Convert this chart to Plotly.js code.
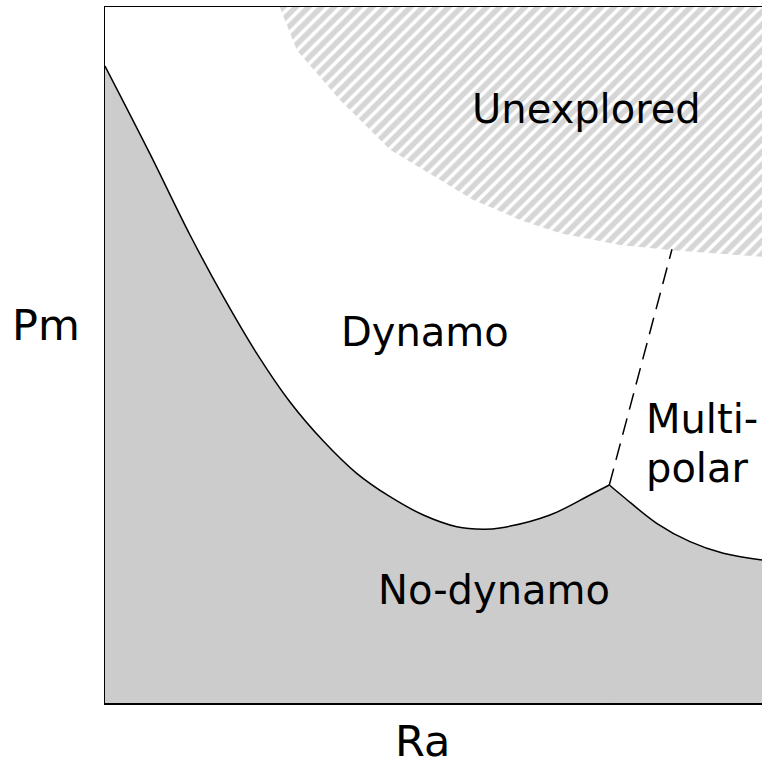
<!DOCTYPE html>
<html>
<head>
<meta charset="utf-8">
<script src="https://cdn.plot.ly/plotly-3.0.1.min.js"></script>
<style>html,body{margin:0;padding:0;overflow:hidden;background:#fff}</style>
</head>
<body>
<div id="chart" style="width:762px;height:765px"></div>
<script>
// Onset of dynamo action: dipolar branch (left of cusp)
const dipRa = [0, 6.85, 12.94, 18.0, 23.09, 28.16, 33.23, 38.31, 43.38, 48.45, 53.53, 57.58, 60.12, 67.73, 73.82, 76.76];
const dipPm = [91.52, 78.9, 67.24, 58.38, 50.24, 43.25, 37.64, 33.0, 29.64, 27.01, 25.33, 24.96, 25.14, 27.01, 29.89, 31.32];

// Onset of dynamo action: multipolar branch (right of cusp)
const multiRa = [76.76, 78.89, 83.97, 89.04, 94.11, 100];
const multiPm = [31.32, 29.64, 25.82, 23.18, 21.51, 20.55];

// Boundary of unexplored region
const unexRa = [26.6, 29.2, 35.8, 43.4, 56.0, 63.2, 69.3, 78.4, 86.0, 100, 100, 26.6];
const unexPm = [100, 93.8, 86.6, 79.5, 72.3, 69.4, 67.5, 65.8, 65.1, 64.1, 100, 100];

// Dipolar / multipolar transition (dashed)
const transRa = [76.76, 86.3];
const transPm = [31.32, 65.2];

const labels = ["Unexplored", "Dynamo", "Multi-", "polar", "No-dynamo"];
const labelRa = [73.3, 48.7, 82.0, 82.0, 59.2];
const labelPm = [85.3, 53.3, 40.8, 33.8, 16.2];

const traces = [
  {
    x: unexRa, y: unexPm, mode: 'lines', fill: 'toself',
    line: {width: 0, color: 'rgba(0,0,0,0)'},
    fillcolor: 'white',
    fillpattern: {shape: '/', fgcolor: '#d6d6d6', bgcolor: 'white', size: 9, solidity: 0.6},
    hoverinfo: 'skip', showlegend: false
  },
  {
    x: dipRa, y: dipPm, mode: 'lines', fill: 'tozeroy',
    fillcolor: '#cccccc',
    line: {color: 'black', width: 1.5, shape: 'spline', smoothing: 1},
    hoverinfo: 'skip', showlegend: false
  },
  {
    x: multiRa, y: multiPm, mode: 'lines', fill: 'tozeroy',
    fillcolor: '#cccccc',
    line: {color: 'black', width: 1.5, shape: 'spline', smoothing: 1},
    hoverinfo: 'skip', showlegend: false
  },
  {
    x: transRa, y: transPm, mode: 'lines',
    line: {color: 'black', width: 1.5, dash: '17px,9px'},
    hoverinfo: 'skip', showlegend: false
  }
];

const font = {family: 'DejaVu Sans', size: 40, color: 'black'};
const annotations = labels.map((t, i) => ({
  x: labelRa[i], y: labelPm[i], xref: 'x', yref: 'y', text: t, showarrow: false,
  font: font, xanchor: (i === 2 || i === 3) ? 'left' : 'center', yanchor: 'middle'
}));
annotations.push({
  x: -0.0898, y: 0.543, xref: 'paper', yref: 'paper', text: 'Pm', showarrow: false,
  font: {family: 'DejaVu Sans', size: 43, color: 'black'}, xanchor: 'center', yanchor: 'middle'
});
annotations.push({
  x: 0.483, y: -0.055, xref: 'paper', yref: 'paper', text: 'Ra', showarrow: false,
  font: {family: 'DejaVu Sans', size: 43, color: 'black'}, xanchor: 'center', yanchor: 'middle'
});

// gray underlay hiding the anti-aliasing seam between the two filled branches
const shapes = [
  {type: 'path', xref: 'x', yref: 'y', layer: 'below',
   path: 'M 74.8,0 L 74.8,29.6 L 76.76,30.95 L 78.4,29.6 L 78.4,0 Z',
   fillcolor: '#cccccc', line: {width: 0}}
];

const layout = {
  width: 762, height: 765,
  margin: {l: 105, r: 0, t: 7, b: 62, pad: 0},
  paper_bgcolor: 'white', plot_bgcolor: 'white',
  xaxis: {range: [0, 100], showgrid: false, zeroline: false, showticklabels: false, ticks: '',
          showline: true, linecolor: 'black', linewidth: 1.5, mirror: true, fixedrange: true},
  yaxis: {range: [0, 100], showgrid: false, zeroline: false, showticklabels: false, ticks: '',
          showline: true, linecolor: 'black', linewidth: 1.5, mirror: false, fixedrange: true},
  annotations: annotations,
  shapes: shapes,
  showlegend: false
};

Plotly.newPlot('chart', traces, layout, {displayModeBar: false, staticPlot: true});
</script>
</body>
</html>
